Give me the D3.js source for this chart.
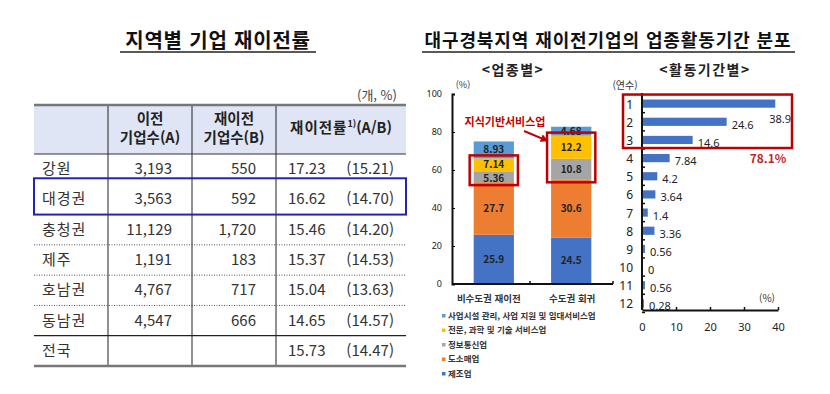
<!DOCTYPE html>
<html lang="ko">
<head>
  <meta charset="UTF-8">
  <style>
    body { margin: 0; background: #fff; }
    svg { display: block; font-family: "Noto Sans CJK KR", "Noto Sans", sans-serif; }
  </style>
  <script src="https://d3js.org/d3.v7.min.js"></script>
</head>
<body>
  <svg id="chart" width="830" height="394"></svg>

  <script>
    // ---- table data ----
    const regions = ["강원", "대경권", "충청권", "제주", "호남권", "동남권", "전국"];
    const movedA = [3193, 3563, 11129, 1191, 4767, 4547, null];
    const removedB = [550, 592, 1720, 183, 717, 666, null];
    const rates = ["17.23", "16.62", "15.46", "15.37", "15.04", "14.65", "15.73"];
    const ratesPrev = ["(15.21)", "(14.70)", "(14.20)", "(14.53)", "(13.63)", "(14.57)", "(14.47)"];

    // ---- stacked bar data (업종별) ----
    const groups = ["비수도권 재이전", "수도권 회귀"];
    const industries = ["제조업", "도소매업", "정보통신업", "전문, 과학 및 기술 서비스업", "사업시설 관리, 사업 지원 및 임대서비스업"];
    const manufacturing = [25.9, 24.5];
    const wholesale = [27.7, 30.6];
    const infoComm = [5.36, 10.8];
    const professional = [7.14, 12.2];
    const facilities = [8.93, 4.68];
    const pctTicks = [0, 20, 40, 60, 80, 100];

    // ---- horizontal bar data (활동기간별) ----
    const years = [1, 2, 3, 4, 5, 6, 7, 8, 9, 10, 11, 12];
    const yearShare = [38.9, 24.6, 14.6, 7.84, 4.2, 3.64, 1.4, 3.36, 0.56, 0, 0.56, 0.28];
    const shareTicks = [0, 10, 20, 30, 40];

    const svg = d3.select("#chart");

    // ================= left: table =================
    svg.append("text")
      .attr("x", 218).attr("y", 48)
      .attr("text-anchor", "middle")
      .attr("font-size", 20).attr("font-weight", "bold").attr("fill", "#111")
      .attr("letter-spacing", 0.8)
      .text("지역별  기업  재이전률");
    svg.append("line")
      .attr("x1", 120).attr("x2", 316).attr("y1", 52).attr("y2", 52)
      .attr("stroke", "#222").attr("stroke-width", 1.5);

    svg.append("text")
      .attr("x", 397).attr("y", 100)
      .attr("text-anchor", "end")
      .attr("font-size", 13).attr("fill", "#444")
      .text("(개, %)");

    const colX = [34, 108, 192, 276, 406];
    const headTop = 105, headBottom = 154, tableBottom = 366;

    svg.append("rect")
      .attr("x", colX[0]).attr("y", headTop)
      .attr("width", colX[4] - colX[0]).attr("height", headBottom - headTop)
      .attr("fill", "#dfe5f4");

    const rowScale = d3.scaleBand().domain(regions).range([headBottom, tableBottom]);

    // header texts
    const head = svg.append("g").attr("font-weight", "bold").attr("fill", "#222").attr("text-anchor", "middle");
    head.append("text").attr("x", 150).attr("y", 124).attr("font-size", 14.5).text("이전");
    head.append("text").attr("x", 150).attr("y", 143).attr("font-size", 14.5).text("기업수(A)");
    head.append("text").attr("x", 234).attr("y", 124).attr("font-size", 14.5).text("재이전");
    head.append("text").attr("x", 234).attr("y", 143).attr("font-size", 14.5).text("기업수(B)");
    const rateHead = head.append("text").attr("x", 341).attr("y", 133).attr("font-size", 14.5);
    rateHead.append("tspan").attr("letter-spacing", 1).text("재이전률");
    rateHead.append("tspan").attr("font-size", 9).attr("dy", -6).text("1)");
    rateHead.append("tspan").attr("dy", 6).text("(A/B)");

    // rows
    const rows = svg.append("g").attr("font-size", 15).attr("fill", "#333");
    regions.forEach((r, i) => {
      const cy = rowScale(r) + rowScale.bandwidth() / 2 + 5;
      rows.append("text").attr("x", 42).attr("y", cy).attr("letter-spacing", 1).text(r);
      if (movedA[i] != null) {
        rows.append("text").attr("x", 172).attr("y", cy).attr("text-anchor", "end").text(d3.format(",")(movedA[i]));
        rows.append("text").attr("x", 256).attr("y", cy).attr("text-anchor", "end").text(d3.format(",")(removedB[i]));
      }
      rows.append("text").attr("x", 288).attr("y", cy).text(rates[i]);
      rows.append("text").attr("x", 394).attr("y", cy).attr("text-anchor", "end").text(ratesPrev[i]);
    });

    // row separators
    [2, 3, 4].forEach(i => {
      const y = rowScale(regions[i]) + rowScale.bandwidth();
      svg.append("line").attr("x1", colX[0]).attr("x2", colX[4]).attr("y1", y).attr("y2", y)
        .attr("stroke", "#555").attr("stroke-width", 1).attr("stroke-dasharray", "1,1.5");
    });
    const ySolid = rowScale(regions[5]) + rowScale.bandwidth();
    svg.append("line").attr("x1", colX[0]).attr("x2", colX[4]).attr("y1", ySolid).attr("y2", ySolid)
      .attr("stroke", "#222").attr("stroke-width", 1.2);

    // column lines
    colX.slice(1, 4).forEach(x => {
      svg.append("line").attr("x1", x).attr("x2", x).attr("y1", headTop).attr("y2", tableBottom)
        .attr("stroke", "#222").attr("stroke-width", 1);
    });
    svg.append("line").attr("x1", colX[0]).attr("x2", colX[4]).attr("y1", headTop).attr("y2", headTop)
      .attr("stroke", "#777").attr("stroke-width", 2.5);
    svg.append("line").attr("x1", colX[0]).attr("x2", colX[4]).attr("y1", headBottom).attr("y2", headBottom)
      .attr("stroke", "#333").attr("stroke-width", 1.2);
    svg.append("line").attr("x1", colX[0]).attr("x2", colX[4]).attr("y1", tableBottom).attr("y2", tableBottom)
      .attr("stroke", "#777").attr("stroke-width", 2.5);

    // highlight 대경권
    svg.append("rect")
      .attr("x", colX[0]).attr("y", rowScale("대경권") - 6)
      .attr("width", colX[4] - colX[0]).attr("height", rowScale.bandwidth() + 6)
      .attr("fill", "none").attr("stroke", "#2323b8").attr("stroke-width", 2);

    // ================= right titles =================
    svg.append("text")
      .attr("x", 608).attr("y", 47)
      .attr("text-anchor", "middle")
      .attr("font-size", 18).attr("font-weight", "bold").attr("fill", "#111")
      .attr("letter-spacing", 0.9)
      .text("대구경북지역 재이전기업의 업종활동기간 분포");
    svg.append("line")
      .attr("x1", 422).attr("x2", 795).attr("y1", 52).attr("y2", 52)
      .attr("stroke", "#222").attr("stroke-width", 1.5);

    svg.append("text").attr("x", 513).attr("y", 75).attr("text-anchor", "middle").attr("letter-spacing", 1.5)
      .attr("font-size", 14).attr("font-weight", "bold").attr("fill", "#222").text("<업종별>");
    svg.append("text").attr("x", 705).attr("y", 75).attr("text-anchor", "middle").attr("letter-spacing", 1.5)
      .attr("font-size", 14).attr("font-weight", "bold").attr("fill", "#222").text("<활동기간별>");

    // ================= stacked bars =================
    const colors = ["#4472c4", "#ed7d31", "#a5a5a5", "#ffc000", "#5b9bd5"];
    const seriesValues = [manufacturing, wholesale, infoComm, professional, facilities];
    const table = groups.map((g, i) => {
      const row = { group: g };
      industries.forEach((name, k) => { row[name] = seriesValues[k][i]; });
      return row;
    });
    const stacked = d3.stack().keys(industries)(table);

    const xBand = d3.scaleBand().domain(groups).range([452, 613]).paddingInner(0.48).paddingOuter(0.28);
    const yPct = d3.scaleLinear().domain([0, 100]).range([284, 94]);

    const bars = svg.append("g");
    stacked.forEach((layer, k) => {
      bars.selectAll(null).data(layer).enter().append("rect")
        .attr("x", d => xBand(d.data.group))
        .attr("width", xBand.bandwidth())
        .attr("y", d => yPct(d[1]))
        .attr("height", d => yPct(d[0]) - yPct(d[1]))
        .attr("fill", colors[k]);
      bars.selectAll(null).data(layer).enter().append("text")
        .attr("x", d => xBand(d.data.group) + xBand.bandwidth() / 2)
        .attr("y", d => {
          const v = d[1] - d[0];
          // thin segments: push the label slightly down so it clears the one above
          return (yPct(d[0]) + yPct(d[1])) / 2 + 3.5 + (v < 6 && k < 4 ? 1.5 : 0) - (k === 3 && v < 8 ? 1 : 0);
        })
        .attr("text-anchor", "middle")
        .attr("font-size", 10).attr("font-weight", "bold").attr("fill", "#222")
        .text(d => d.data[industries[k]]);
    });

    // knowledge-service highlight boxes
    groups.forEach((g, i) => {
      const top = yPct(stacked[3][i][1]), bottom = yPct(stacked[2][i][0]);
      svg.append("rect")
        .attr("x", xBand(g) - 4).attr("y", top - 3)
        .attr("width", xBand.bandwidth() + 8).attr("height", bottom - top + 6)
        .attr("fill", "none").attr("stroke", "#c00000").attr("stroke-width", 2.5);
    });
    svg.append("text").attr("x", 505).attr("y", 126).attr("text-anchor", "middle")
      .attr("font-size", 11).attr("font-weight", "bold").attr("fill", "#c00000").text("지식기반서비스업");
    svg.append("defs").append("marker")
      .attr("id", "arrow").attr("viewBox", "0 0 10 10").attr("refX", 8).attr("refY", 5)
      .attr("markerWidth", 4).attr("markerHeight", 4).attr("orient", "auto")
      .append("path").attr("d", "M0,0L10,5L0,10z").attr("fill", "#c00000");
    const box2Top = yPct(stacked[3][1][1]) - 3;
    svg.append("line")
      .attr("x1", 524).attr("y1", 131)
      .attr("x2", xBand(groups[1]) - 4).attr("y2", box2Top + 8)
      .attr("stroke", "#c00000").attr("stroke-width", 2).attr("marker-end", "url(#arrow)");

    // axes
    const yAxisG = svg.append("g").attr("transform", "translate(452,0)")
      .call(d3.axisLeft(yPct).tickValues(pctTicks).tickSize(-3).tickPadding(10));
    yAxisG.select(".domain").attr("stroke", "#111").attr("stroke-width", 2);
    yAxisG.selectAll("text").attr("font-size", 9).attr("fill", "#222").attr("font-family", "Noto Sans");
    svg.append("line").attr("x1", 452).attr("x2", 613).attr("y1", 284).attr("y2", 284)
      .attr("stroke", "#111").attr("stroke-width", 2);
    [530, 613].forEach(x => {
      svg.append("line").attr("x1", x).attr("x2", x).attr("y1", 284).attr("y2", 281)
        .attr("stroke", "#111").attr("stroke-width", 1.5);
    });
    svg.append("text").attr("x", 463).attr("y", 88).attr("text-anchor", "middle")
      .attr("font-size", 9).attr("fill", "#333").text("(%)");
    groups.forEach(g => {
      svg.append("text").attr("x", xBand(g) + xBand.bandwidth() / 2 + (g === groups[0] ? -5 : 1)).attr("y", 302)
        .attr("text-anchor", "middle").attr("font-size", 9.5).attr("font-weight", "bold").attr("fill", "#333")
        .text(g);
    });

    // legend (top item first)
    const legend = svg.append("g").attr("transform", "translate(442,317)");
    industries.slice().reverse().forEach((name, j) => {
      const k = industries.length - 1 - j;
      legend.append("rect").attr("x", 0).attr("y", j * 14.5 - 3).attr("width", 3.5).attr("height", 3.5)
        .attr("fill", colors[k]);
      legend.append("text").attr("x", 6).attr("y", j * 14.5 + 1.5)
        .attr("font-size", 8.5).attr("font-weight", "bold").attr("fill", "#333").text(name);
    });

    // ================= horizontal bars =================
    const yYear = d3.scaleBand().domain(years).range([95, 312]).paddingInner(0.55).paddingOuter(0.25);
    const xShare = d3.scaleLinear().domain([0, 40]).range([642, 778]);

    const hb = svg.append("g");
    hb.selectAll("rect").data(years).enter().append("rect")
      .attr("x", xShare(0) + 1)
      .attr("y", d => yYear(d))
      .attr("width", (d, i) => Math.max(xShare(yearShare[i]) - xShare(0), 0))
      .attr("height", yYear.bandwidth())
      .attr("fill", "#4472c4");
    hb.selectAll(".val").data(years).enter().append("text")
      .attr("class", "val")
      .attr("x", (d, i) => yearShare[i] > 35 ? xShare(yearShare[i]) - 5 : xShare(yearShare[i]) + 6)
      .attr("y", (d, i) => yYear(d) + yYear.bandwidth() / 2 + (yearShare[i] > 35 ? 19 : 7))
      .attr("font-size", 11).attr("fill", "#222").attr("font-family", "Noto Sans")
      .text((d, i) => yearShare[i]);
    hb.selectAll(".yr").data(years).enter().append("text")
      .attr("class", "yr")
      .attr("x", 633)
      .attr("y", d => yYear(d) + yYear.bandwidth() / 2 + 5)
      .attr("text-anchor", "end")
      .attr("font-size", 12).attr("fill", "#222").attr("font-family", "Noto Sans")
      .text(d => d);

    // axis lines
    svg.append("line").attr("x1", 642).attr("x2", 642).attr("y1", 93).attr("y2", 310)
      .attr("stroke", "#111").attr("stroke-width", 2);
    years.forEach(d => {
      const y = yYear(d) + yYear.bandwidth() + (yYear.step() - yYear.bandwidth()) / 2;
      svg.append("line").attr("x1", 642).attr("x2", 645).attr("y1", y).attr("y2", y)
        .attr("stroke", "#111").attr("stroke-width", 1.5);
    });
    const xAxisG = svg.append("g").attr("transform", "translate(0,310)")
      .call(d3.axisTop(xShare).tickValues(shareTicks).tickSize(3).tickSizeOuter(0));
    xAxisG.select(".domain").attr("stroke", "#111").attr("stroke-width", 2);
    xAxisG.selectAll(".tick line").attr("stroke", "#111").attr("stroke-width", 1.5);
    xAxisG.selectAll("text").attr("y", 21).attr("font-size", 11).attr("fill", "#222").attr("font-family", "Noto Sans");

    svg.append("text").attr("x", 625).attr("y", 89).attr("text-anchor", "middle")
      .attr("font-size", 10).attr("fill", "#333").text("(연수)");
    svg.append("text").attr("x", 767).attr("y", 302).attr("text-anchor", "middle")
      .attr("font-size", 10).attr("fill", "#333").text("(%)");

    // top 3 highlight
    const boxTop = yYear(1) - 5, boxBottom = yYear(3) + yYear.bandwidth() + 4;
    svg.append("rect")
      .attr("x", 623).attr("y", boxTop)
      .attr("width", 169).attr("height", boxBottom - boxTop)
      .attr("fill", "none").attr("stroke", "#c00000").attr("stroke-width", 2.5);
    svg.append("text").attr("x", 768).attr("y", yYear(4) + yYear.bandwidth() / 2 + 5)
      .attr("text-anchor", "middle").attr("font-size", 12).attr("font-weight", "bold").attr("fill", "#c0282d")
      .text(d3.format(".1f")(d3.sum(yearShare.slice(0, 3))) + "%");
  </script>
</body>
</html>
